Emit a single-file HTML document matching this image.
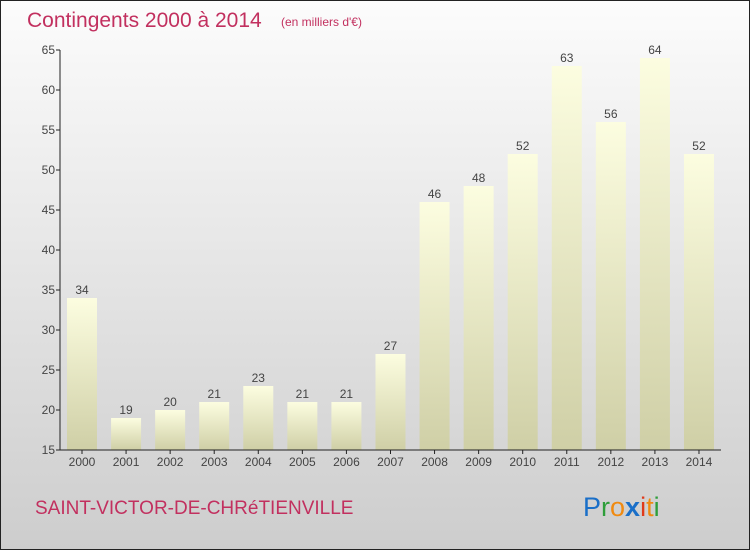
<!DOCTYPE html>
<html><head><meta charset="utf-8"><style>
body{margin:0;width:750px;height:550px;overflow:hidden;font-family:"Liberation Sans","DejaVu Sans",sans-serif}
svg{display:block}
</style></head><body>
<svg id="c" width="750" height="550" xmlns="http://www.w3.org/2000/svg">
<defs>
<linearGradient id="bg" x1="0" y1="0" x2="0" y2="1"><stop offset="0" stop-color="#fcfcfc"/><stop offset="1" stop-color="#cdcdcd"/></linearGradient>
<linearGradient id="bar" x1="0" y1="0" x2="0" y2="1"><stop offset="0" stop-color="#fcfde0"/><stop offset="1" stop-color="#cfcfa6"/></linearGradient>
</defs>
<rect x="0.5" y="0.5" width="749" height="549" fill="url(#bg)" stroke="#222"/>
<text x="27" y="27" font-size="21" fill="#c2305f">Contingents 2000 à 2014</text>
<text x="281" y="26" font-size="12" fill="#c2305f">(en milliers d'€)</text>
<g id="plot"></g>
<text x="35" y="514" font-size="19" fill="#c2305f">SAINT-VICTOR-DE-CHRéTIENVILLE</text>
<text x="583" y="516" font-size="27"><tspan fill="#1a6fc8">P</tspan><tspan fill="#2e9e3a">r</tspan><tspan fill="#f08a10">o</tspan><tspan fill="#1a6fc8" font-weight="bold">x</tspan><tspan fill="#e03a1a">i</tspan><tspan fill="#f08a10">t</tspan><tspan fill="#2e9e3a">i</tspan></text>
</svg>
<script>
const years=["2000","2001","2002","2003","2004","2005","2006","2007","2008","2009","2010","2011","2012","2013","2014"];
const values=[34,19,20,21,23,21,21,27,46,48,52,63,56,64,52];
const yTicks=[15,20,25,30,35,40,45,50,55,60,65];
const NS="http://www.w3.org/2000/svg";
const g=document.getElementById('plot');
const y=v=>450-(v-15)*8;
const x=i=>82+i*44.07;
function mk(t,a,p){const e=document.createElementNS(NS,t);for(const k in a)e.setAttribute(k,a[k]);(p||g).appendChild(e);return e;}
yTicks.forEach(v=>{
 const l=mk('line',{x1:56,x2:60,y1:y(v),y2:y(v),stroke:'#222'});
 
 
 const t=mk('text',{x:55,y:y(v)+4,'text-anchor':'end','font-size':12,fill:'#444'});
 t.textContent=v;
 
 
});
values.forEach((v,i)=>{
 const r=mk('rect',{x:x(i)-15,y:y(v),width:30,height:450-y(v),fill:'url(#bar)'});
 
 
 const t=mk('text',{x:x(i),y:y(v)-4,'text-anchor':'middle','font-size':12,fill:'#444'});
 t.textContent=v;
 
 
 const k=mk('line',{x1:x(i),x2:x(i),y1:450,y2:454,stroke:'#222'});
 
 
 const xl=mk('text',{x:x(i),y:466,'text-anchor':'middle','font-size':12,fill:'#444'});
 xl.textContent=years[i];
 
 
});
const ya=mk('line',{x1:60,x2:60,y1:50,y2:450,stroke:'#222'});


const xa=mk('line',{x1:60,x2:721,y1:450,y2:450,stroke:'#222'});


</script>
</body></html>
